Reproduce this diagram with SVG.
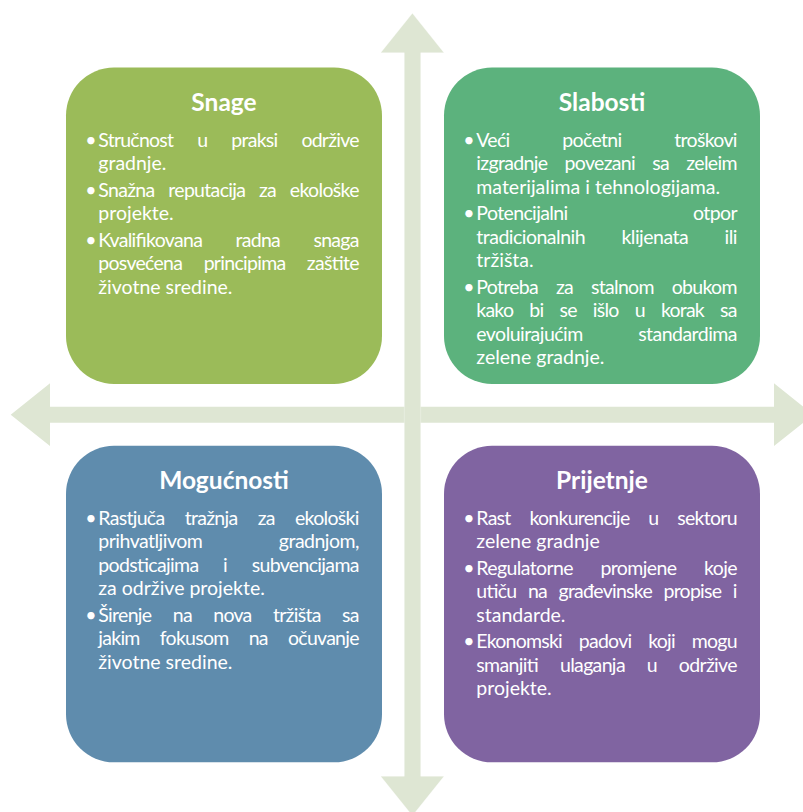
<svg xmlns="http://www.w3.org/2000/svg" width="803" height="812" viewBox="0 0 803 812">
<style>
.t{font-family:Lato,"Open Sans","Liberation Sans",sans-serif;font-weight:bold;font-size:24.5px;fill:#fff;text-anchor:middle}
.b{font-family:Lato,"Open Sans","Liberation Sans",sans-serif;font-size:19.5px;fill:#fff}
.bu{text-anchor:middle}
.ax{fill:#dee6d3}
.axv{fill:#dee6d3;stroke:#fff;stroke-opacity:0.5;stroke-width:0.6}
</style>
<rect width="803" height="812" fill="#fff"/>
<g id="connectors">
<path class="ax" d="M10.7,414.7 L50,383.3 L50,406.7 L774,406.7 L774,383.3 L813.3,414.7 L774,446 L774,422.7 L50,422.7 L50,446 Z"/>
<path class="axv" d="M412.4,13.3 L444,52.7 L420.7,52.7 L420.7,776.3 L444,776.3 L412.4,815.7 L380.7,776.3 L404.3,776.3 L404.3,52.7 L380.7,52.7 Z"/>
</g>
<g id="snage">
<rect x="66" y="67.5" width="316" height="316.5" rx="48" fill="#9bbb59"/>
<text class="t" x="224" y="111">Snage</text>
<text class="b bu" x="91" y="146.7">•</text>
<text class="b" x="98.3" y="146.7" textLength="261.2" lengthAdjust="spacing" word-spacing="19.8">Stručnost u praksi održive</text>
<text class="b" x="98.3" y="170.2">gradnje.</text>
<text class="b bu" x="91" y="196.7">•</text>
<text class="b" x="98.3" y="196.7" textLength="261.2" lengthAdjust="spacing" word-spacing="9.4">Snažna reputacija za ekološke</text>
<text class="b" x="98.3" y="220.2">projekte.</text>
<text class="b bu" x="91" y="246.7">•</text>
<text class="b" x="98.3" y="246.7" textLength="261.2" lengthAdjust="spacing" word-spacing="29">Kvalifikovana radna snaga</text>
<text class="b" x="98.3" y="270.2" textLength="261.2" lengthAdjust="spacing" word-spacing="17.1">posvećena principima zaštite</text>
<text class="b" x="98.3" y="293.7">životne sredine.</text>
</g>
<g id="slabosti">
<rect x="444" y="67.5" width="316" height="316.5" rx="48" fill="#5cb27d"/>
<text class="t" x="602" y="111">Slabosti</text>
<text class="b bu" x="469" y="146.7">•</text>
<text class="b" x="476.3" y="146.7" textLength="261.2" lengthAdjust="spacing" word-spacing="48.5">Veći početni troškovi</text>
<text class="b" x="476.3" y="170.2" textLength="261.2" lengthAdjust="spacing" word-spacing="12.9">izgradnje povezani sa zeleim</text>
<text class="b" x="476.3" y="193.7">materijalima i tehnologijama.</text>
<text class="b bu" x="469" y="220.2">•</text>
<text class="b" x="476.3" y="220.2" textLength="261.2" lengthAdjust="spacing" word-spacing="121">Potencijalni otpor</text>
<text class="b" x="476.3" y="243.7" textLength="261.2" lengthAdjust="spacing" word-spacing="31.9">tradicionalnih klijenata ili</text>
<text class="b" x="476.3" y="267.2">tržišta.</text>
<text class="b bu" x="469" y="293.7">•</text>
<text class="b" x="476.3" y="293.7" textLength="261.2" lengthAdjust="spacing" word-spacing="13.7">Potreba za stalnom obukom</text>
<text class="b" x="476.3" y="317.2" textLength="261.2" lengthAdjust="spacing" word-spacing="11.9">kako bi se išlo u korak sa</text>
<text class="b" x="476.3" y="340.7" textLength="261.2" lengthAdjust="spacing" word-spacing="51">evoluirajućim standardima</text>
<text class="b" x="476.3" y="364.2">zelene gradnje.</text>
</g>
<g id="mogucnosti">
<rect x="66" y="445.8" width="316" height="316.5" rx="48" fill="#5f8cad"/>
<text class="t" x="224" y="489">Mogućnosti</text>
<text class="b bu" x="91" y="524.7">•</text>
<text class="b" x="98.3" y="524.7" textLength="261.2" lengthAdjust="spacing" word-spacing="15.9">Rastjuča tražnja za ekološki</text>
<text class="b" x="98.3" y="548.2" textLength="261.2" lengthAdjust="spacing" word-spacing="72.1">prihvatljivom gradnjom,</text>
<text class="b" x="98.3" y="571.7" textLength="261.2" lengthAdjust="spacing" word-spacing="20.2">podsticajima i subvencijama</text>
<text class="b" x="98.3" y="595.2">za održive projekte.</text>
<text class="b bu" x="91" y="621.7">•</text>
<text class="b" x="98.3" y="621.7" textLength="261.2" lengthAdjust="spacing" word-spacing="17">Širenje na nova tržišta sa</text>
<text class="b" x="98.3" y="645.2" textLength="261.2" lengthAdjust="spacing" word-spacing="15.9">jakim fokusom na očuvanje</text>
<text class="b" x="98.3" y="668.7">životne sredine.</text>
</g>
<g id="prijetnje">
<rect x="444" y="445.8" width="316" height="316.5" rx="48" fill="#8064a1"/>
<text class="t" x="602" y="489">Prijetnje</text>
<text class="b bu" x="469" y="524.7">•</text>
<text class="b" x="476.3" y="524.7" textLength="261.2" lengthAdjust="spacing" word-spacing="14.6">Rast konkurencije u sektoru</text>
<text class="b" x="476.3" y="548.2">zelene gradnje</text>
<text class="b bu" x="469" y="574.7">•</text>
<text class="b" x="476.3" y="574.7" textLength="261.2" lengthAdjust="spacing" word-spacing="23.2">Regulatorne promjene koje</text>
<text class="b" x="476.3" y="598.2" textLength="261.2" lengthAdjust="spacing" word-spacing="7.2">utiču na građevinske propise i</text>
<text class="b" x="476.3" y="621.7">standarde.</text>
<text class="b bu" x="469" y="648.2">•</text>
<text class="b" x="476.3" y="648.2" textLength="261.2" lengthAdjust="spacing" word-spacing="12.6">Ekonomski padovi koji mogu</text>
<text class="b" x="476.3" y="671.7" textLength="261.2" lengthAdjust="spacing" word-spacing="17.5">smanjiti ulaganja u održive</text>
<text class="b" x="476.3" y="695.2">projekte.</text>
</g>
</svg>
